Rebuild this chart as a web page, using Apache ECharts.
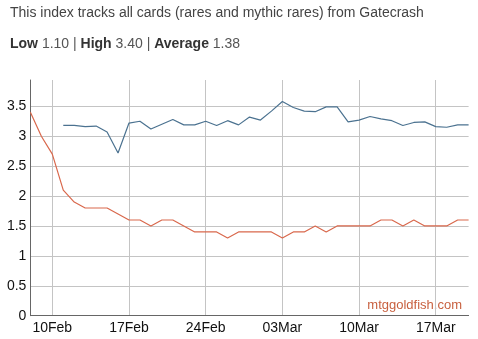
<!DOCTYPE html>
<html>
<head>
<meta charset="utf-8">
<script src="https://cdn.jsdelivr.net/npm/echarts@6/dist/echarts.min.js"></script>
<style>
  html, body { margin: 0; padding: 0; background: #fff; }
  #chart { width: 478px; height: 339px; }
</style>
</head>
<body>
<div id="chart"></div>
<script>
// Daily dates, 8 Feb to 20 Mar
const dates = [
  '08Feb','09Feb','10Feb','11Feb','12Feb','13Feb','14Feb','15Feb','16Feb','17Feb',
  '18Feb','19Feb','20Feb','21Feb','22Feb','23Feb','24Feb','25Feb','26Feb','27Feb',
  '28Feb','01Mar','02Mar','03Mar','04Mar','05Mar','06Mar','07Mar','08Mar','09Mar',
  '10Mar','11Mar','12Mar','13Mar','14Mar','15Mar','16Mar','17Mar','18Mar','19Mar','20Mar'
];

// Index values (blue line starts on 11 Feb)
const indexBlue = [
  null, null, null, 3.18, 3.18, 3.16, 3.17, 3.07, 2.72, 3.22,
  3.25, 3.12, 3.20, 3.28, 3.19, 3.19, 3.25, 3.18, 3.26, 3.19,
  3.32, 3.27, 3.42, 3.58, 3.48, 3.42, 3.41, 3.49, 3.49, 3.24,
  3.27, 3.33, 3.29, 3.26, 3.18, 3.23, 3.24, 3.16, 3.15, 3.19, 3.19
];

const indexRed = [
  3.4, 3.0, 2.7, 2.1, 1.9, 1.8, 1.8, 1.8, 1.7, 1.6,
  1.6, 1.5, 1.6, 1.6, 1.5, 1.4, 1.4, 1.4, 1.3, 1.4,
  1.4, 1.4, 1.4, 1.3, 1.4, 1.4, 1.5, 1.4, 1.5, 1.5,
  1.5, 1.5, 1.6, 1.6, 1.5, 1.6, 1.5, 1.5, 1.5, 1.6, 1.6
];

// Dates that get a label and a vertical grid line
const weekTicks = ['10Feb','17Feb','24Feb','03Mar','10Mar','17Mar'];

const headline = 'This index tracks all cards (rares and mythic rares) from Gatecrash';
const stats = { low: '1.10', high: '3.40', average: '1.38' };

const FONT = '"Liberation Sans", Arial, sans-serif';
const isWeekTick = (i) => weekTicks.indexOf(dates[i]) !== -1;

const chart = echarts.init(document.getElementById('chart'), null, { renderer: 'canvas' });

chart.setOption({
  animation: false,
  backgroundColor: '#fff',
  title: [
    {
      text: headline,
      left: 5, top: 1,
      textStyle: { fontFamily: FONT, fontSize: 14, fontWeight: 'normal', color: '#444' }
    },
    {
      text: '{b|Low} ' + stats.low + ' | {b|High} ' + stats.high + ' | {b|Average} ' + stats.average,
      left: 5, top: 32,
      textStyle: {
        fontFamily: FONT, fontSize: 14, fontWeight: 'normal', color: '#555',
        rich: { b: { fontFamily: FONT, fontSize: 14, fontWeight: 'bold', color: '#333' } }
      }
    }
  ],
  graphic: [{
    type: 'text',
    right: 16, top: 299,
    style: { text: 'mtggoldfish.com', fill: '#c8603f', font: '13px ' + FONT }
  }],
  grid: { left: 30.4, right: 9.4, top: 80, bottom: 23.3, containLabel: false },
  xAxis: {
    type: 'category',
    data: dates,
    boundaryGap: false,
    axisLine: { lineStyle: { color: '#666', width: 1 } },
    axisTick: { show: false },
    axisLabel: {
      interval: (i) => isWeekTick(i),
      color: '#111', fontFamily: FONT, fontSize: 14, margin: 5
    },
    splitLine: {
      show: true,
      interval: (i) => isWeekTick(i),
      lineStyle: { color: '#c4c4c4', width: 1 }
    }
  },
  yAxis: {
    type: 'value',
    min: 0, max: 3.94, interval: 0.5,
    axisLine: { show: true, lineStyle: { color: '#666', width: 1 } },
    axisTick: { show: false },
    axisLabel: {
      showMaxLabel: false,
      color: '#111', fontFamily: FONT, fontSize: 14, margin: 4,
      formatter: (v) => String(v)
    },
    splitLine: { show: true, showMaxLine: false, lineStyle: { color: '#c4c4c4', width: 1 } }
  },
  series: [
    {
      type: 'line', data: indexBlue, showSymbol: false, connectNulls: false,
      lineStyle: { color: '#4b7290', width: 1.2 }, z: 3
    },
    {
      type: 'line', data: indexRed, showSymbol: false,
      lineStyle: { color: '#d9684c', width: 1.2 }, z: 3
    }
  ]
});
</script>
</body>
</html>
